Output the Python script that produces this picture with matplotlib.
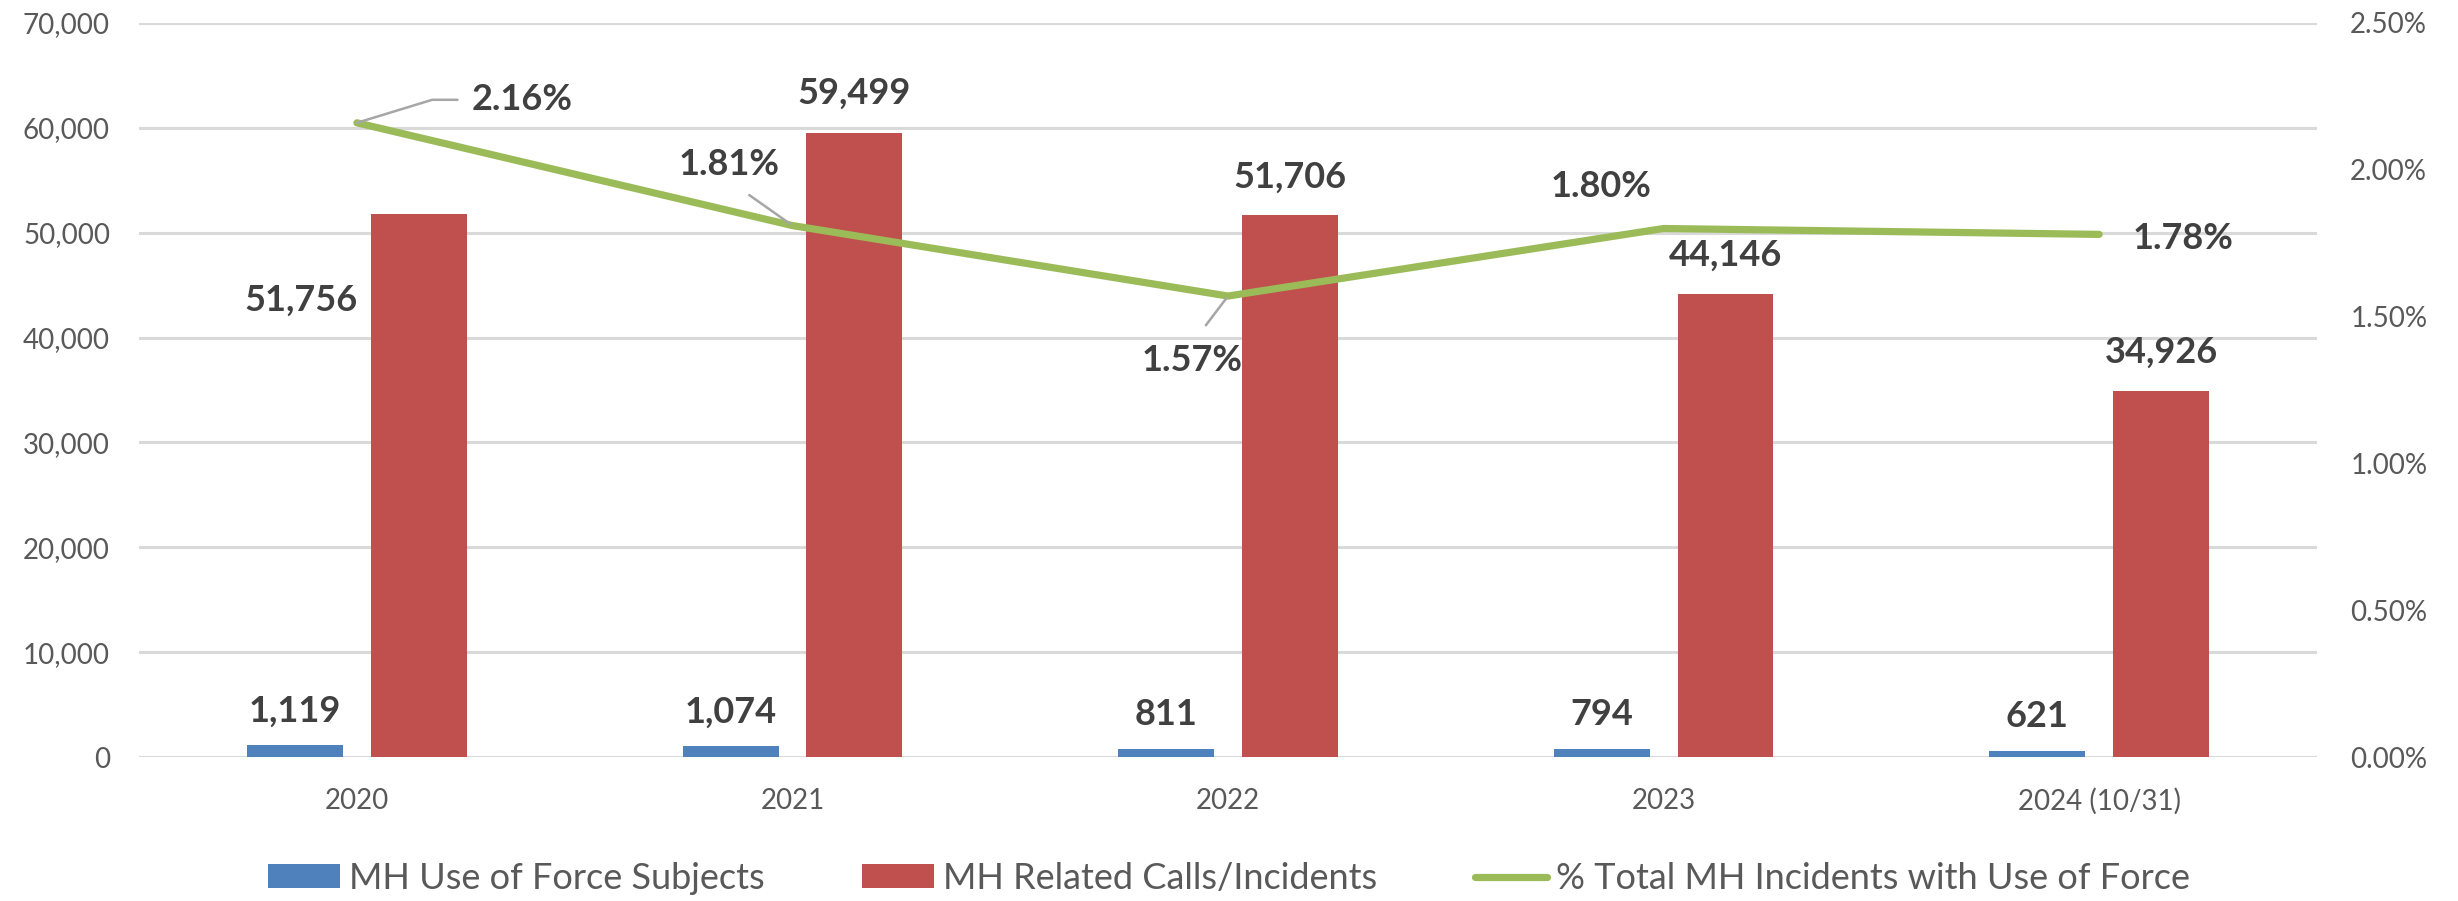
import matplotlib.pyplot as plt
from matplotlib.ticker import FuncFormatter
import numpy as np

plt.rcParams['font.family'] = ['Lato', 'DejaVu Sans']

years = ['2020', '2021', '2022', '2023', '2024 (10/31)']
uof_subjects = [1119, 1074, 811, 794, 621]
mh_calls = [51756, 59499, 51706, 44146, 34926]
pct_uof = [2.16, 1.81, 1.57, 1.80, 1.78]

BLUE = '#4F81BD'
RED = '#C0504D'
GREEN = '#9BBB59'
LABEL = '#404040'
TICK = '#595959'

fig = plt.figure(figsize=(24.58, 9.01), dpi=100)
ax = fig.add_axes([0.0566, 0.1598, 0.886, 0.8147])
ax2 = ax.twinx()

x = np.arange(len(years))
w = 0.22
off = 0.142

ax.bar(x - off, uof_subjects, w, color=BLUE, label='MH Use of Force Subjects', zorder=3)
ax.bar(x + off, mh_calls, w, color=RED, label='MH Related Calls/Incidents', zorder=3)
ax2.plot(x, pct_uof, color=GREEN, linewidth=5.2, solid_capstyle='round',
         label='% Total MH Incidents with Use of Force', zorder=4)

ax.set_xlim(-0.5, len(years) - 0.5)
ax.set_ylim(0, 70000)
ax.set_yticks(np.arange(0, 70001, 10000))
ax.yaxis.set_major_formatter(FuncFormatter(lambda v, p: f'{v:,.0f}'))
ax2.set_ylim(0, 2.5)
ax2.set_yticks(np.arange(0, 2.51, 0.5))
ax2.yaxis.set_major_formatter(FuncFormatter(lambda v, p: f'{v:.2f}%'))

ax.grid(axis='y', color='#D9D9D9', linewidth=2.2, zorder=0)
ax.set_axisbelow(True)
for a in (ax, ax2):
    for s in a.spines.values():
        s.set_visible(False)
ax.set_xticks(x)
ax.set_xticklabels(years)
ax.tick_params(axis='x', length=0, pad=22, labelsize=20, labelcolor=TICK)
ax.tick_params(axis='y', length=0, pad=21, labelsize=20, labelcolor=TICK)
ax2.tick_params(axis='y', length=0, pad=24, labelsize=20, labelcolor=TICK)

# data labels for the small blue bars
for xi, v in zip(x, uof_subjects):
    ax.annotate(f'{v:,}', (xi - off, v), xytext=(0, 34), textcoords='offset pixels',
                ha='center', va='center', fontsize=26, fontweight='bold', color=LABEL)

# red bar labels (first one sits beside the bar)
red_offsets = [(-118, -86), (0, 40), (0, 38), (0, 39), (0, 39)]
for xi, v, (dx, dy) in zip(x, mh_calls, red_offsets):
    ax.annotate(f'{v:,}', (xi + off, v), xytext=(dx, dy), textcoords='offset pixels',
                ha='center', va='center', fontsize=26, fontweight='bold', color=LABEL,
                zorder=5)

# percentage labels with leader lines
pct_offsets = [(165, 23), (-63, 61), (-36, -64), (-63, 42), (84, -4)]
leaders = [
    dict(arrowstyle='-', color='#A6A6A6', lw=1.8, relpos=(0, 0.5),
         connectionstyle='angle,angleA=0,angleB=17,rad=0', shrinkA=8, shrinkB=0),
    dict(arrowstyle='-', color='#A6A6A6', lw=1.8, relpos=(0.5, 0),
         shrinkA=14, shrinkB=2),
    dict(arrowstyle='-', color='#A6A6A6', lw=1.8, relpos=(0.5, 1),
         shrinkA=14, shrinkB=2),
    None,
    None,
]
for xi, v, (dx, dy), lead in zip(x, pct_uof, pct_offsets, leaders):
    ax2.annotate(f'{v:.2f}%', (xi, v), xytext=(dx, dy), textcoords='offset pixels',
                 ha='center', va='center', fontsize=26, fontweight='bold', color=LABEL,
                 arrowprops=lead, zorder=6)

h1, l1 = ax.get_legend_handles_labels()
h2, l2 = ax2.get_legend_handles_labels()
leg = fig.legend(h1 + h2, l1 + l2, loc='center', bbox_to_anchor=(0.5, 0.025), ncol=3,
                 frameon=False, fontsize=26, handlelength=2.0, handleheight=0.64,
                 handletextpad=0.25, columnspacing=2.7, labelcolor=TICK)

fig.savefig('out.png', dpi=100)
